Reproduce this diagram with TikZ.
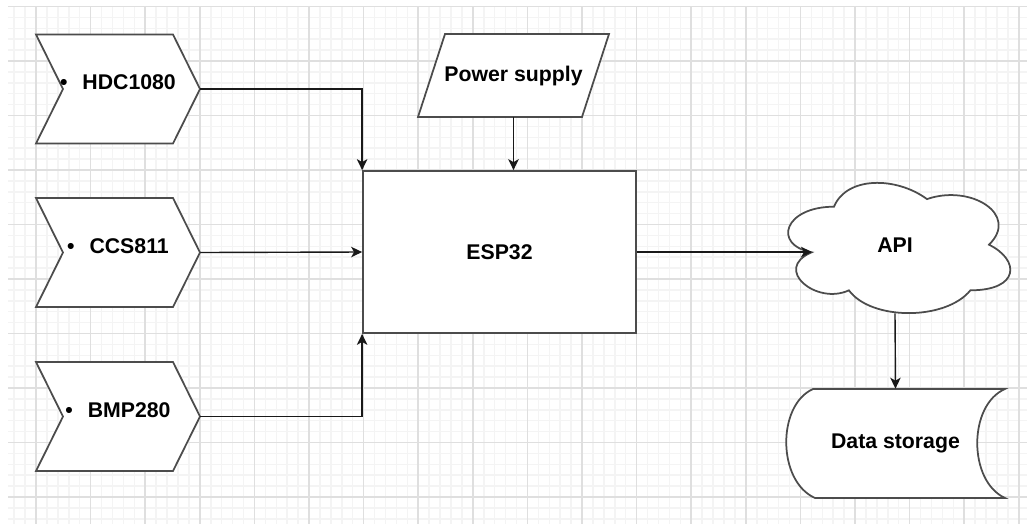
\documentclass[tikz,border=0pt]{standalone}
\usepackage{fontspec}
\setmainfont{Liberation Sans}
\usetikzlibrary{arrows.meta, positioning}

\begin{document}
\begin{tikzpicture}[x=0.2mm, y=-0.2mm, font=\fontsize{12.1}{14}\selectfont\bfseries,
    outline/.style={draw=black!70, line width=0.35mm, fill=white},
    sensor/.style={inner sep=0pt, minimum width=32.8mm, minimum height=21.8mm},
    holder/.style={inner sep=0pt, minimum width=30mm, minimum height=#1},
    conn/.style={draw=black!90, line width=0.28mm, -{Stealth[length=2.2mm, width=2.1mm, inset=0.6mm]}},
    minorgrid/.style={gray!9, line width=0.3mm},
    majorgrid/.style={gray!25, line width=0.3mm}]
    \useasboundingbox (0,0) rectangle (1027,524);
    \fill[white] (0,0) rectangle (1027,524);

    % background grid
    \begin{scope}
      \clip (8,6) rectangle (1027,524);
      \foreach \i in {0,...,92} \draw[minorgrid] ({14.2+10.92*\i},6) -- ({14.2+10.92*\i},524);
      \foreach \j in {0,...,47} \draw[minorgrid] (8,{6.5+10.9*\j}) -- (1027,{6.5+10.9*\j});
      \foreach \i in {0,...,18} \draw[majorgrid] ({36+54.6*\i},6) -- ({36+54.6*\i},524);
      \foreach \j in {0,...,9} \draw[majorgrid] (8,{6.5+54.5*\j}) -- (1027,{6.5+54.5*\j});
    \end{scope}

    % sensors
    \foreach \name/\y/\txt in {hdc/89/HDC1080, ccs/252.5/CCS811, bmp/416.5/BMP280} {
      \draw[outline] (36,\y-54.5) -- (173,\y-54.5) -- (200,\y) -- (173,\y+54.5)
        -- (36,\y+54.5) -- (63,\y) -- cycle;
      \node[sensor] (\name) at (118,\y) {\raisebox{1.3mm}[\height][\depth]{\textbullet\hspace{0.7em}\txt}};
    }

    \node[outline, minimum width=54.6mm, minimum height=32.4mm] (esp) at (499.5,252) {ESP32};

    \draw[outline] (445,34) -- (609,34) -- (582,117) -- (418,117) -- cycle;
    \node[holder=16.6mm] (power) at (513.5,75.5) {Power supply};

    % cloud
    \begin{scope}[shift={(772,168.7)}, x=49.6mm, y=-30.4mm]
      \draw[outline] (0.25,0.25) .. controls (0.05,0.25) and (0,0.5) .. (0.16,0.55)
        .. controls (0,0.66) and (0.18,0.9) .. (0.31,0.8)
        .. controls (0.4,1) and (0.7,1) .. (0.8,0.8)
        .. controls (1,0.8) and (1,0.6) .. (0.875,0.5)
        .. controls (1,0.3) and (0.8,0.1) .. (0.625,0.2)
        .. controls (0.5,0.05) and (0.3,0.05) .. (0.25,0.25) -- cycle;
    \end{scope}
    \node[holder=27.3mm] (api) at (895,244.7) {API};
    \coordinate (apiin) at (812,252);

    \draw[outline] (813,389) -- (1005,389) .. controls (968,405) and (968,481) .. (1005,498)
      -- (815,498) .. controls (777,481) and (777,405) .. (813,389) -- cycle;
    \node[holder=21.8mm] (store) at (895.5,443.5) {Data storage};

    \draw[conn] (hdc.east) -| (esp.north west);
    \draw[conn] (ccs.east) -- (esp.west);
    \draw[conn] (bmp.east) -| (esp.south west);
    \draw[conn] (power.south) -- (esp.north -| power.south);
    \draw[conn] (esp.east) -- (apiin);
    \draw[conn] (api.south) -- (store.north);
  \end{tikzpicture}
\end{document}
